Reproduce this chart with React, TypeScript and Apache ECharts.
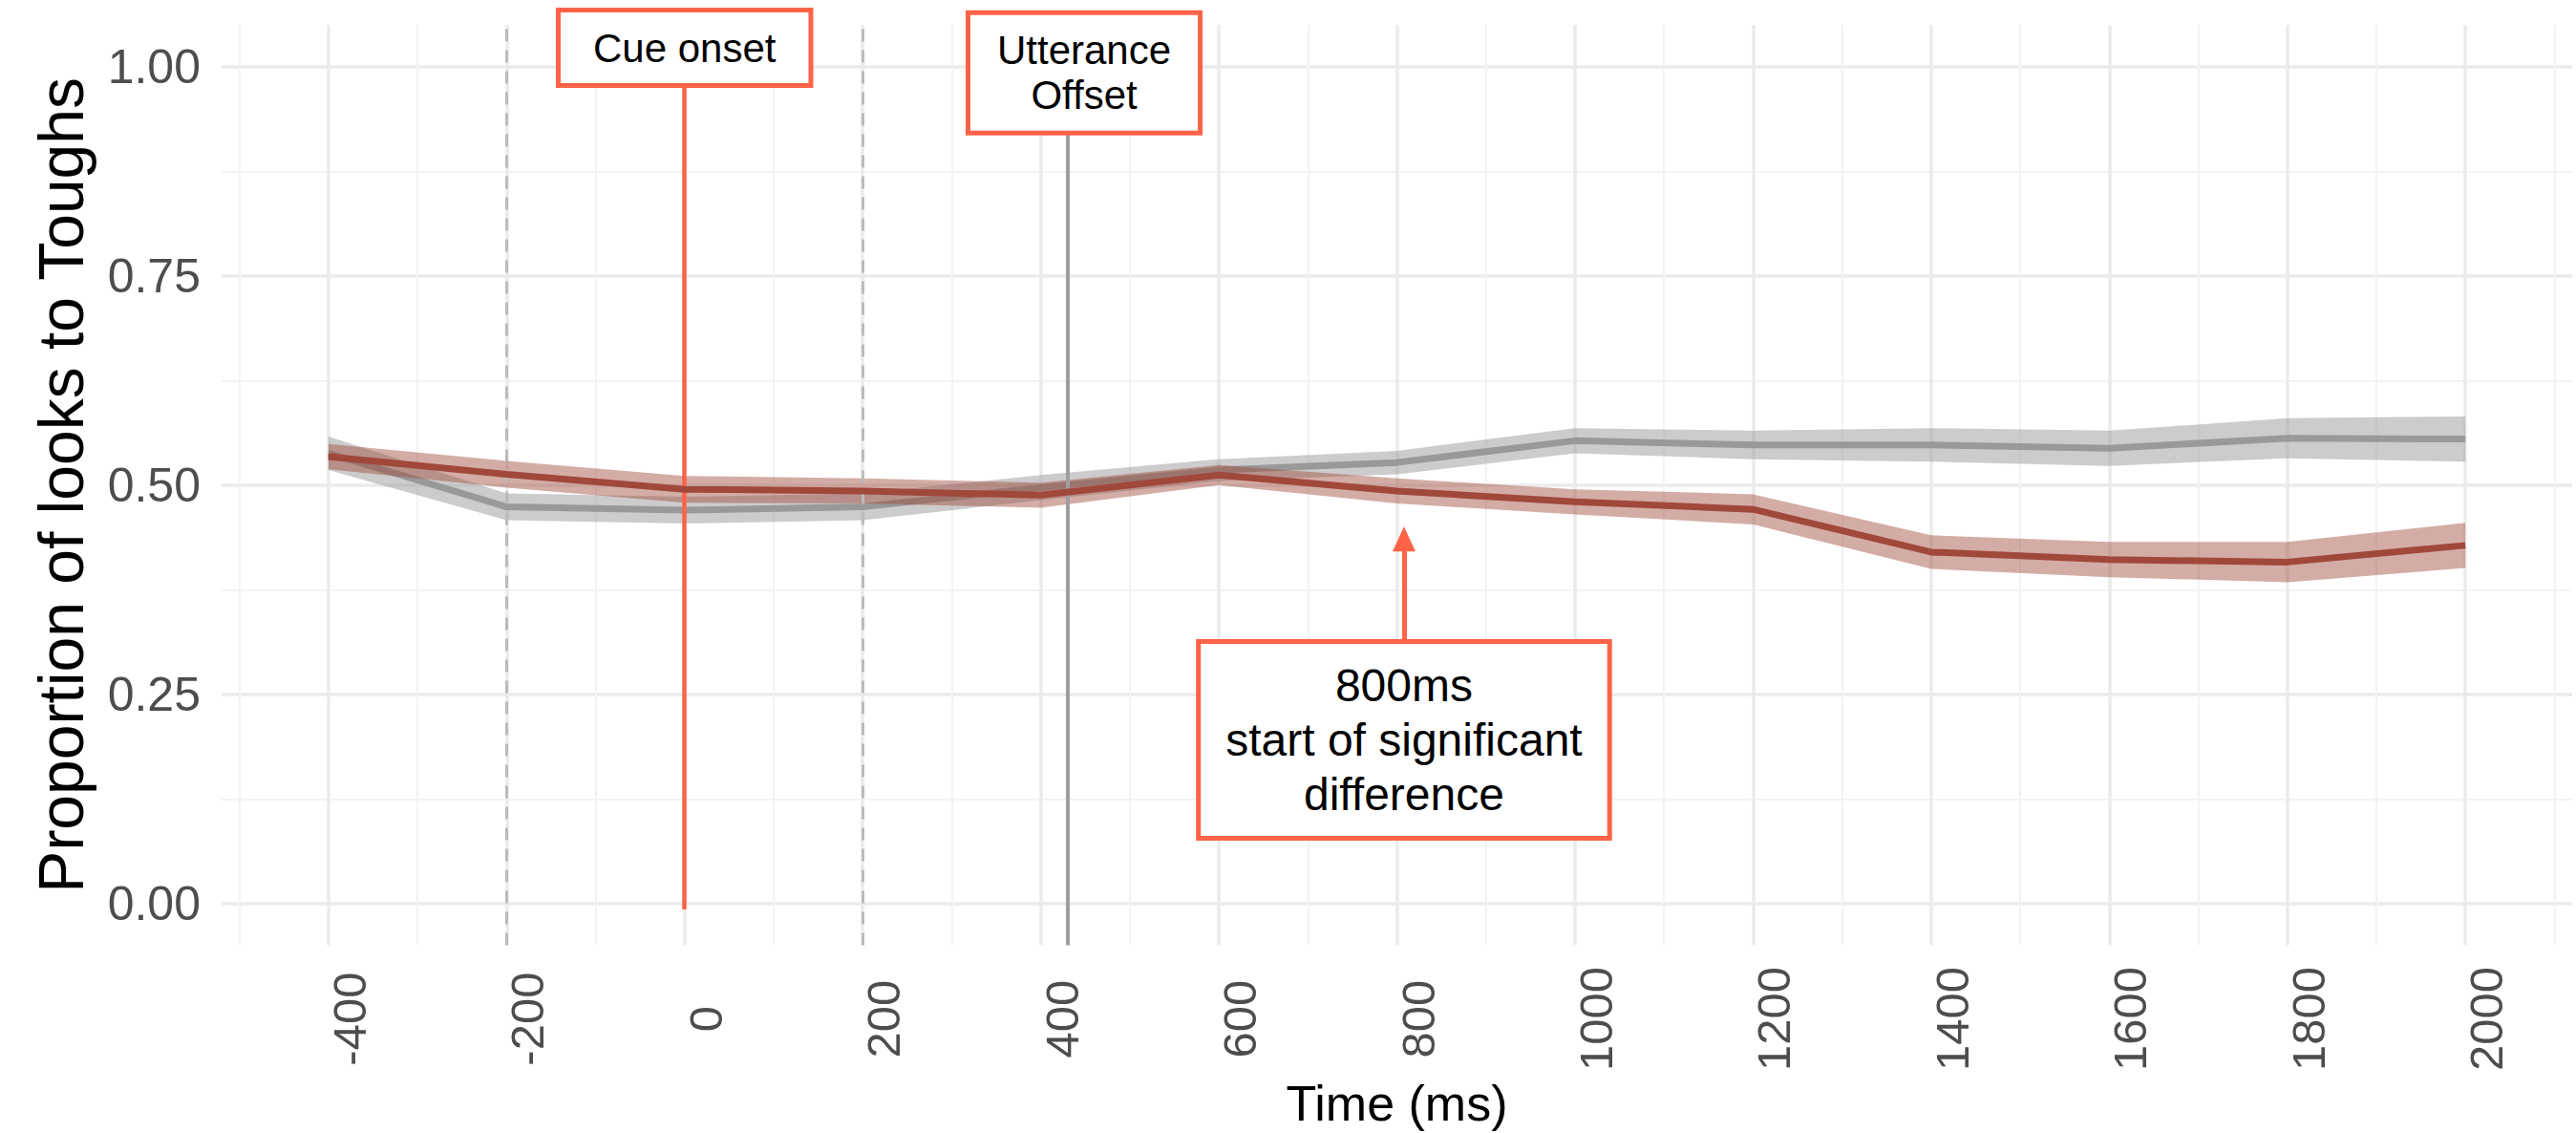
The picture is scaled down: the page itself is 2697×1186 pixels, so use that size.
import React, { useEffect, useRef } from "react";
import * as echarts from "echarts";

// ---- data (time bins in ms) ----
const times = [-400, -200, 0, 200, 400, 600, 800, 1000, 1200, 1400, 1600, 1800, 2000];

const redMean = [0.534, 0.513, 0.495, 0.493, 0.488, 0.512, 0.493, 0.48, 0.471, 0.42, 0.411, 0.408, 0.428];
const redLower = [0.519, 0.497, 0.479, 0.478, 0.473, 0.5, 0.478, 0.465, 0.453, 0.4, 0.39, 0.384, 0.401];
const redUpper = [0.549, 0.529, 0.511, 0.508, 0.503, 0.524, 0.508, 0.495, 0.489, 0.44, 0.432, 0.432, 0.455];

const grayMean = [0.538, 0.474, 0.47, 0.474, 0.497, 0.518, 0.527, 0.553, 0.548, 0.548, 0.544, 0.556, 0.555];
const grayLower = [0.518, 0.458, 0.454, 0.458, 0.482, 0.505, 0.513, 0.538, 0.531, 0.528, 0.523, 0.532, 0.528];
const grayUpper = [0.558, 0.49, 0.486, 0.49, 0.512, 0.531, 0.541, 0.568, 0.565, 0.568, 0.565, 0.58, 0.582];

// ---- axes ----
const xMajorTicks = [-400, -200, 0, 200, 400, 600, 800, 1000, 1200, 1400, 1600, 1800, 2000];
const xMinorTicks = [-500, -300, -100, 100, 300, 500, 700, 900, 1100, 1300, 1500, 1700, 1900, 2100];
const yMajorTicks = [0, 0.25, 0.5, 0.75, 1];
const yMinorTicks = [0.125, 0.375, 0.625, 0.875];
const X_MIN = -520;
const X_MAX = 2120;
const Y_MIN = -0.05;
const Y_MAX = 1.05;

// ---- annotations (data coordinates) ----
const dashedTimes = [-200, 200];
const CUE_TIME = 0;
const CUE_LINE = [-0.007, 0.981];
const CUE_BOX = { x: 0, top: 1.0647, text: "Cue onset" };
const UTTER_TIME = 430;
const UTTER_LINE = [Y_MIN, 0.9238];
const UTTER_BOX = { x: 448.7, top: 1.0618, text: "Utterance\nOffset" };
const SIG_TIME = 808;
const SIG_ARROW = [0.3104, 0.4355];
const SIG_BOX = { x: 808, top: 0.3104, text: "800ms\nstart of significant\ndifference" };

const FONT = '"Liberation Sans", Arial, Helvetica, sans-serif';
const TOMATO = "#FF6347";
const RED = "#A0483A";
const RED_BAND = "rgba(160,72,58,0.45)";
const GRAY = "#999999";
const GRAY_BAND = "rgba(153,153,153,0.5)";

function band(name: string, lower: number[], upper: number[], fill: string, z: number) {
  return {
    type: "custom",
    name,
    z,
    silent: true,
    data: times.map((t, i) => [t, lower[i], upper[i]]),
    encode: { x: 0, y: [1, 2] },
    renderItem: (params: any, api: any) => {
      if (params.dataIndex !== 0) return null;
      const top = times.map((t, i) => api.coord([t, upper[i]]));
      const bottom = times.map((t, i) => api.coord([t, lower[i]])).reverse();
      return {
        type: "polygon",
        shape: { points: top.concat(bottom) },
        style: { fill },
      };
    },
  };
}

export default function App() {
  const ref = useRef<HTMLDivElement>(null);

  useEffect(() => {
    if (!ref.current) return;
    const chart = echarts.init(ref.current, undefined, { renderer: "svg" });

    const option: any = {
      animation: false,
      backgroundColor: "#ffffff",
      textStyle: { fontFamily: FONT },
      grid: { left: 232, right: 4, top: 26, bottom: 195, containLabel: false },
      xAxis: [
        {
          type: "value",
          min: X_MIN,
          max: X_MAX,
          position: "bottom",
          axisLine: { show: false },
          axisTick: { show: false, customValues: xMajorTicks },
          axisLabel: {
            customValues: xMajorTicks,
            formatter: (v: number) => String(v),
            rotate: 90,
            align: "center",
            verticalAlign: "top",
            lineHeight: 44,
            margin: 77,
            fontSize: 49,
            color: "#4D4D4D",
            fontFamily: FONT,
          },
          splitLine: { show: true, lineStyle: { color: "#EBEBEB", width: 3.5 } },
          name: "Time (ms)",
          nameLocation: "middle",
          nameGap: 165,
          nameTextStyle: { fontSize: 52, color: "#000000", verticalAlign: "middle", fontFamily: FONT },
        },
        {
          type: "value",
          min: X_MIN,
          max: X_MAX,
          position: "bottom",
          axisLine: { show: false },
          axisTick: { show: false, customValues: xMinorTicks },
          axisLabel: { show: false },
          splitLine: { show: true, lineStyle: { color: "#F3F3F3", width: 2 } },
        },
      ],
      yAxis: [
        {
          type: "value",
          min: Y_MIN,
          max: Y_MAX,
          position: "left",
          axisLine: { show: false },
          axisTick: { show: false, customValues: yMajorTicks },
          axisLabel: {
            customValues: yMajorTicks,
            formatter: (v: number) => v.toFixed(2),
            margin: 22,
            fontSize: 50,
            color: "#4D4D4D",
            fontFamily: FONT,
          },
          splitLine: { show: true, lineStyle: { color: "#EBEBEB", width: 3.5 } },
          name: "Proportion of looks to Toughs",
          nameLocation: "middle",
          nameGap: 168,
          nameTextStyle: { fontSize: 66, color: "#000000", verticalAlign: "middle", fontFamily: FONT },
        },
        {
          type: "value",
          min: Y_MIN,
          max: Y_MAX,
          position: "left",
          axisLine: { show: false },
          axisTick: { show: false, customValues: yMinorTicks },
          axisLabel: { show: false },
          splitLine: { show: true, lineStyle: { color: "#F3F3F3", width: 2 } },
        },
      ],
      series: [
        {
          type: "line",
          name: "dashed",
          z: 1,
          silent: true,
          data: [[times[0], grayMean[0]]],
          showSymbol: false,
          lineStyle: { opacity: 0 },
          markLine: {
            silent: true,
            symbol: ["none", "none"],
            label: { show: false },
            lineStyle: { color: "#BBBBBB", width: 3, type: [13, 9] },
            data: dashedTimes.map((t) => ({ xAxis: t })),
          },
        },
        band("grayBand", grayLower, grayUpper, GRAY_BAND, 2),
        {
          type: "line",
          name: "gray",
          z: 3,
          silent: true,
          data: times.map((t, i) => [t, grayMean[i]]),
          showSymbol: false,
          lineStyle: { color: GRAY, width: 7 },
        },
        band("redBand", redLower, redUpper, RED_BAND, 4),
        {
          type: "line",
          name: "red",
          z: 5,
          silent: true,
          data: times.map((t, i) => [t, redMean[i]]),
          showSymbol: false,
          lineStyle: { color: RED, width: 7 },
        },
        {
          type: "line",
          name: "annotations",
          z: 6,
          silent: true,
          data: [[times[0], redMean[0]]],
          showSymbol: false,
          lineStyle: { opacity: 0 },
          markLine: {
            silent: true,
            symbol: ["none", "none"],
            label: { show: false },
            data: [
              [
                { coord: [CUE_TIME, CUE_LINE[0]], lineStyle: { color: TOMATO, width: 4.5, type: "solid" } },
                { coord: [CUE_TIME, CUE_LINE[1]] },
              ],
              [
                { coord: [UTTER_TIME, UTTER_LINE[0]], lineStyle: { color: "#9E9E9E", width: 4, type: "solid" } },
                { coord: [UTTER_TIME, UTTER_LINE[1]] },
              ],
              [
                {
                  coord: [SIG_TIME, SIG_ARROW[0]],
                  symbol: "none",
                  lineStyle: { color: TOMATO, width: 5, type: "solid" },
                },
                {
                  coord: [SIG_TIME, SIG_ARROW[1]],
                  symbol: "triangle",
                  symbolSize: [24, 26],
                  itemStyle: { color: TOMATO },
                },
              ],
            ],
          },
        },
      ],
    };

    chart.setOption(option);

    const toPx = (x: number, y: number) =>
      chart.convertToPixel({ xAxisIndex: 0, yAxisIndex: 0 } as any, [x, y]) as number[];

    const boxes = [
      { b: CUE_BOX, size: 42, lh: 48, pad: [13, 34, 13, 34] },
      { b: UTTER_BOX, size: 42, lh: 47, pad: [13, 28, 14, 28] },
      { b: SIG_BOX, size: 48, lh: 57, pad: [15, 26, 15, 26] },
    ];

    chart.setOption({
      graphic: boxes.map(({ b, size, lh, pad }) => {
        const [px, py] = toPx(b.x, b.top);
        return {
          type: "text",
          x: px,
          y: py,
          z: 20,
          silent: true,
          style: {
            text: b.text,
            fontSize: size,
            fontFamily: FONT,
            fill: "#000000",
            align: "center",
            verticalAlign: "top",
            lineHeight: lh,
            padding: pad,
            backgroundColor: "#ffffff",
            borderColor: TOMATO,
            borderWidth: 5,
          },
        };
      }),
    });

    return () => chart.dispose();
  }, []);

  return (
    <div
      ref={ref}
      style={{ position: "fixed", left: 0, top: 0, width: 2697, height: 1186, background: "#fff" }}
    />
  );
}
